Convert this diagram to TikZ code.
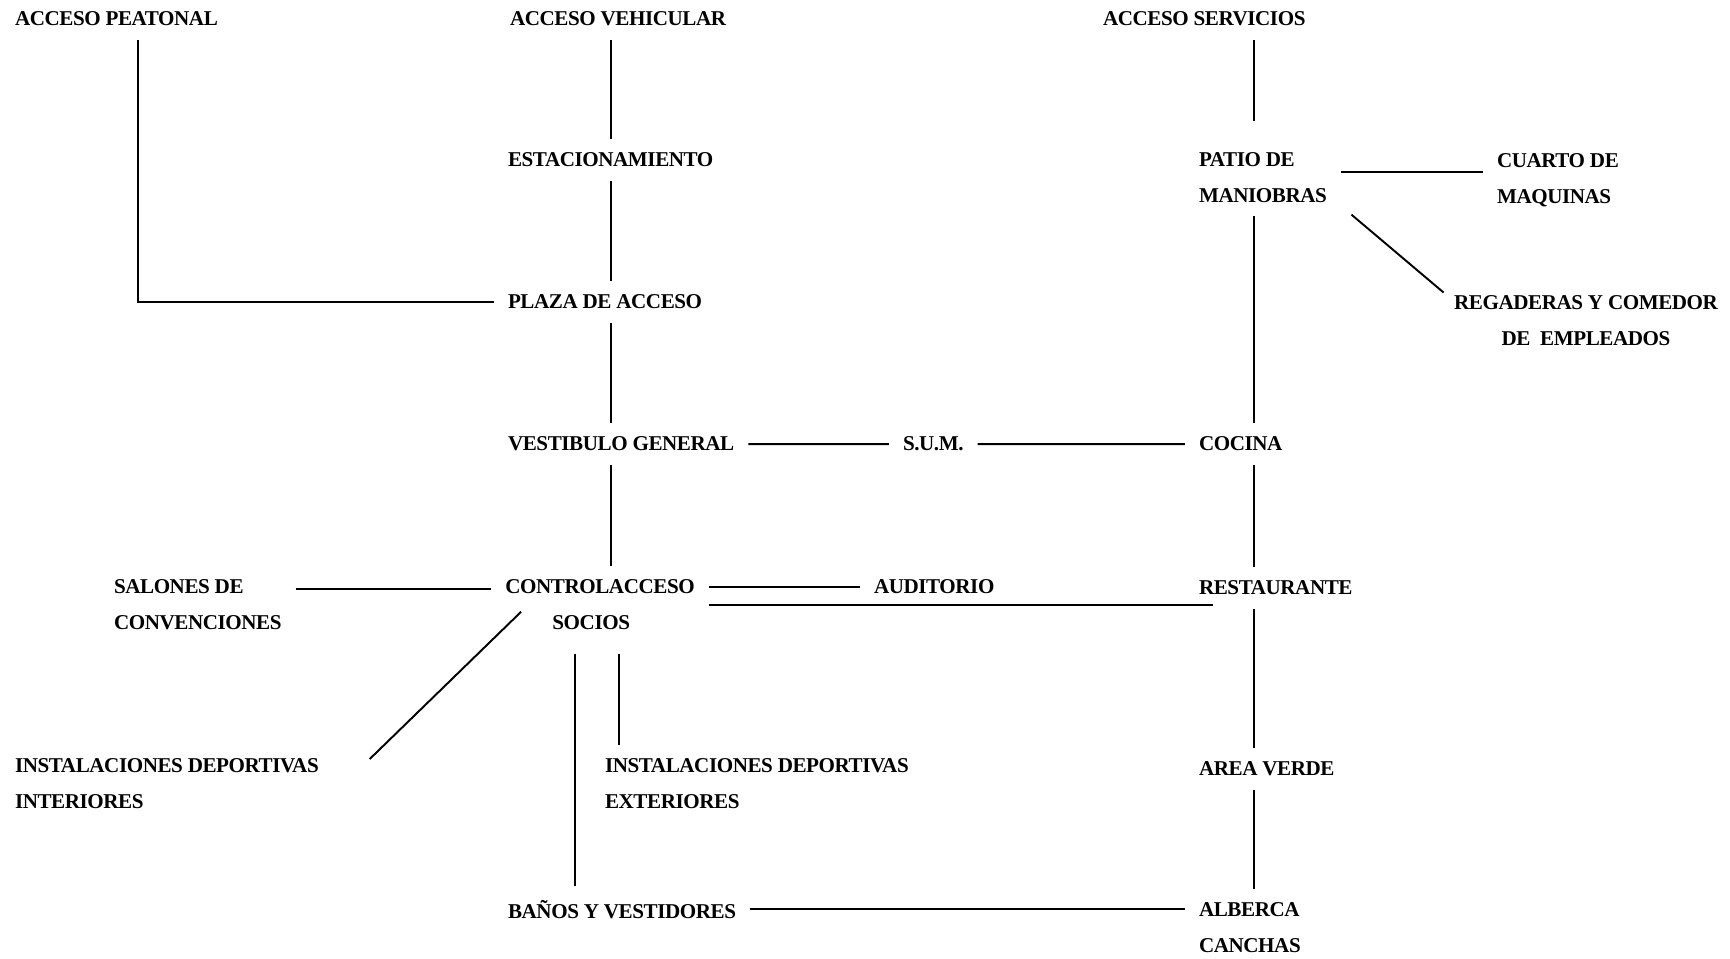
\documentclass[tikz,border=0pt]{standalone}
\usepackage{fontspec}
\setmainfont{Liberation Serif}[LetterSpace=-2]
\tikzset{
  lbl/.style={font=\fontsize{12pt}{20pt}\selectfont\bfseries, inner sep=0pt, outer sep=0pt, align=left, anchor=north west},
  link/.style={line width=1.1pt, shorten <=8pt, shorten >=8pt},
}
\begin{document}
\begin{tikzpicture}[x=0.02cm,y=-0.02cm]
    % Page frame
    \useasboundingbox (0,0) rectangle (1730,958);

    % Columns for the vertical links
    \coordinate (c0) at (138,0);
    \coordinate (c1) at (611,0);
    \coordinate (c2) at (1254,0);
    \coordinate (c3) at (575,0);
    \coordinate (c4) at (619,0);

    % Accesses
    \node[lbl] (peat) at (15,12) {ACCESO PEATONAL};
    \node[lbl] (vehic) at (510,12) {ACCESO VEHICULAR};
    \node[lbl] (serv) at (1103,12) {ACCESO SERVICIOS};

    % Central column
    \node[lbl] (estac) at (508,153) {ESTACIONAMIENTO};
    \node[lbl] (plaza) at (508,295) {PLAZA DE ACCESO};
    \node[lbl] (vest) at (508,437) {VESTIBULO GENERAL};
    \node[lbl, align=center, anchor=north] (ctrl) at (600,580) {CONTROLACCESO\\SOCIOS\hspace*{10pt}};
    \node[lbl] (banos) at (508,900) {BAÑOS Y VESTIDORES};

    % Left side
    \node[lbl] (salones) at (114,580) {SALONES DE\\CONVENCIONES};
    \node[lbl] (instint) at (15,759) {INSTALACIONES DEPORTIVAS\\INTERIORES};
    \node[lbl] (instext) at (605,759) {INSTALACIONES DEPORTIVAS\\EXTERIORES};

    % Middle
    \node[lbl] (sum) at (903,437) {S.U.M.};
    \node[lbl] (audit) at (874,580) {AUDITORIO};

    % Service column
    \node[lbl] (patio) at (1199,153) {PATIO DE\\MANIOBRAS};
    \node[lbl] (cuarto) at (1497,154) {CUARTO DE\\MAQUINAS};
    \node[lbl, align=center, anchor=north] (regad) at (1586,296) {REGADERAS Y COMEDOR\\DE~~EMPLEADOS};
    \node[lbl] (cocina) at (1199,437) {COCINA};
    \node[lbl] (rest) at (1199,581) {RESTAURANTE};
    \node[lbl] (area) at (1199,762) {AREA VERDE};
    \node[lbl] (alberca) at (1199,903) {ALBERCA\\CANCHAS};

    % Links
    \draw[link] (c0 |- peat.south) -- (c0 |- plaza.west) -- (plaza.west);
    \draw[link, line width=0.8pt] (c1 |- vehic.south) -- (c1 |- estac.north);
    \draw[link] (c1 |- estac.south) -- (c1 |- plaza.north);
    \draw[link] (c1 |- plaza.south) -- (c1 |- vest.north);
    \draw[link] (c1 |- vest.south) -- (c1 |- ctrl.north);
    \draw[link] (vest.east) -- (sum.west);
    \draw[link] (sum.east) -- (cocina.west);

    \draw[link, shorten >=18pt] (c2 |- serv.south) -- (c2 |- patio.north);
    \draw[link] (c2 |- patio.south) -- (c2 |- cocina.north);
    \draw[link] (c2 |- cocina.south) -- (c2 |- rest.north);
    \draw[link] (c2 |- rest.south) -- (c2 |- area.north);
    \draw[link] (c2 |- area.south) -- (c2 |- alberca.north);
    \draw[link] ([yshift=3pt]patio.east) -- ([yshift=3pt]patio.east -| cuarto.west);
    \draw[link, shorten <=0pt, shorten >=0pt] ([xshift=14pt,yshift=-7pt]patio.south east) -- ([xshift=-6pt,yshift=2pt]regad.north west);

    \draw[link] ([yshift=-5pt]salones.north east) -- ([yshift=-5pt]ctrl.north west);
    \draw[link] (ctrl.east |- audit.west) -- (audit.west);
    \draw[link, shorten >=-8pt] (ctrl.east) -- (ctrl.east -| rest.west);
    \draw[link, shorten <=0pt, shorten >=0pt] ([xshift=9pt,yshift=10pt]ctrl.south west) -- ([xshift=29pt]instint.north east);
    \draw[link, shorten <=14pt] (c3 |- ctrl.south) -- (c3 |- banos.north);
    \draw[link, shorten <=14pt] (c4 |- ctrl.south) -- (c4 |- instext.north);
    \draw[link] (banos.east) -- (banos.east -| alberca.west);
\end{tikzpicture}
\end{document}
